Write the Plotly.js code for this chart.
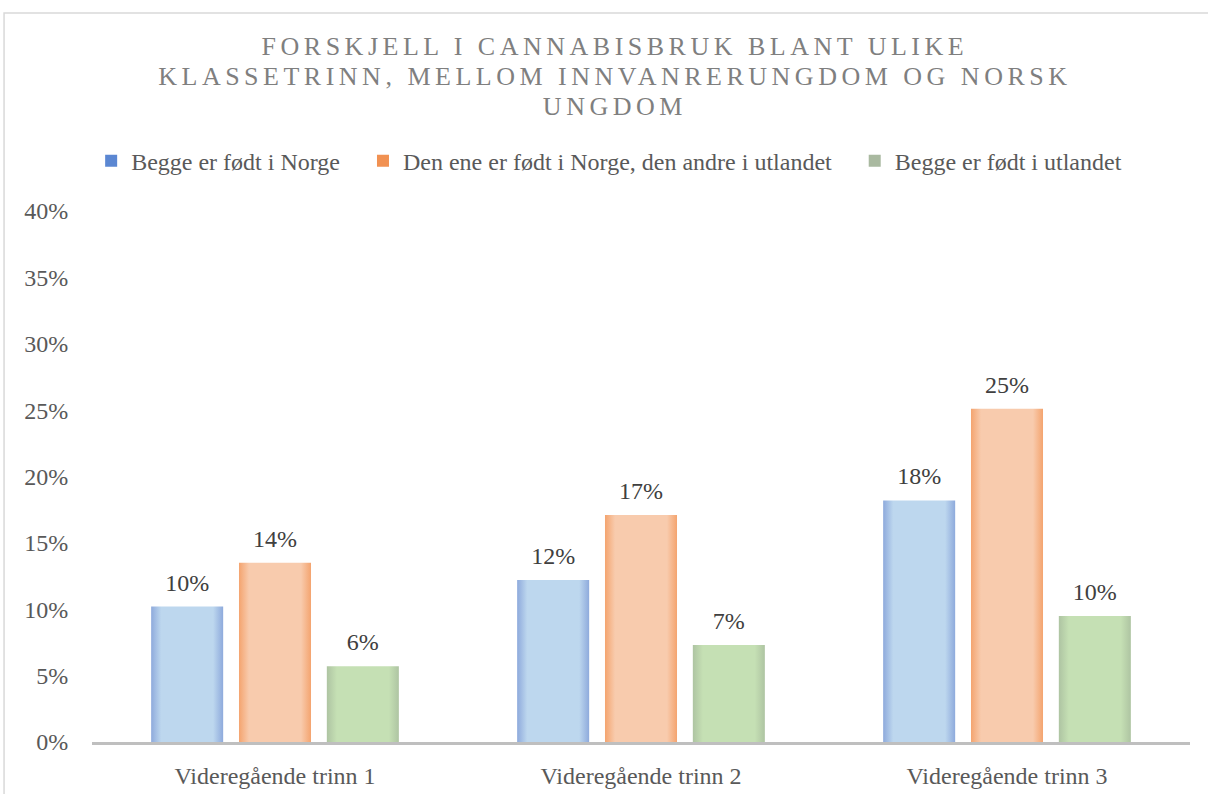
<!DOCTYPE html>
<html>
<head>
<meta charset="utf-8">
<script src="https://cdn.plot.ly/plotly-3.0.1.min.js"></script>
<style>
  html, body { margin: 0; padding: 0; background: #ffffff; }
  #chart { width: 1208px; height: 794px; }
  .gtitle { letter-spacing: 4.5px; }
</style>
</head>
<body>
<div id="chart"></div>
<script>
// ---- Data ----
const categories = ['Videregående trinn 1', 'Videregående trinn 2', 'Videregående trinn 3'];
const seriesNames = [
  'Begge er født i Norge',
  'Den ene er født i Norge, den andre i utlandet',
  'Begge er født i utlandet'
];
const beggeNorge = [0.102, 0.122, 0.182];
const enNorgeEnUtland = [0.135, 0.171, 0.251];
const beggeUtland = [0.057, 0.073, 0.095];
const yTickValues = [0, 0.05, 0.10, 0.15, 0.20, 0.25, 0.30, 0.35, 0.40];
const yTickLabels = ['0%', '5%', '10%', '15%', '20%', '25%', '30%', '35%', '40%'];

// ---- Styles ----
const legendColors = ['#5b87d2', '#f19152', '#a9b9a0'];
const gradEdge = ['#8eaadc', '#f4a46f', '#aec4a2'];
const gradCenter = ['#bdd7ee', '#f8cbad', '#c5e0b4'];
const labelPad = 0.006;
const legendSpacer = '\u00a0\u00a0\u00a0';
const serif = '"Liberation Serif", "Times New Roman", serif';

const seriesValues = [beggeNorge, enNorgeEnUtland, beggeUtland];
const traces = [];
seriesValues.forEach((vals, i) => {
  traces.push({
    type: 'bar',
    name: seriesNames[i] + (i < seriesNames.length - 1 ? legendSpacer : ''),
    x: categories,
    y: vals,
    offsetgroup: 'g' + i,
    marker: { color: legendColors[i], line: { width: 0 } },
    meta: 'grad' + i,
    hoverinfo: 'skip'
  });
});
// data labels, sitting just above each bar
seriesValues.forEach((vals, i) => {
  traces.push({
    type: 'bar',
    x: categories,
    y: vals.map(() => labelPad),
    base: vals,
    offsetgroup: 'g' + i,
    marker: { color: 'rgba(0,0,0,0)', line: { width: 0 } },
    text: vals.map(v => Math.round(v * 100) + '%'),
    textposition: 'outside',
    cliponaxis: false,
    textfont: { family: serif, size: 24, color: '#404040' },
    showlegend: false,
    hoverinfo: 'skip'
  });
});

const layout = {
  width: 1208,
  height: 794,
  paper_bgcolor: '#ffffff',
  plot_bgcolor: '#ffffff',
  margin: { l: 92, r: 18, t: 211, b: 52 },
  font: { family: serif, size: 24, color: '#595959' },
  title: {
    text: 'FORSKJELL I CANNABISBRUK BLANT ULIKE<br>KLASSETRINN, MELLOM INNVANRERUNGDOM OG NORSK<br>UNGDOM',
    font: { family: serif, size: 26, color: '#7f7f7f' },
    x: 0.509,
    xanchor: 'center',
    y: 0.931,
    yanchor: 'middle'
  },
  barmode: 'group',
  bargap: 0.28,
  bargroupgap: 0.18,
  showlegend: true,
  legend: {
    orientation: 'h',
    x: 0.471,
    xanchor: 'center',
    y: 1.094,
    yanchor: 'middle',
    font: { family: serif, size: 24, color: '#595959' },
    traceorder: 'normal'
  },
  xaxis: {
    type: 'category',
    showgrid: false,
    showline: true,
    linecolor: '#bfbfbf',
    linewidth: 3,
    ticks: 'outside',
    ticklen: 10,
    tickcolor: 'rgba(0,0,0,0)',
    tickfont: { family: serif, size: 24, color: '#595959' },
    zeroline: false
  },
  yaxis: {
    range: [0, 0.4],
    tickvals: yTickValues,
    ticktext: yTickLabels,
    showgrid: false,
    showline: false,
    zeroline: false,
    ticks: 'outside',
    ticklen: 18,
    tickcolor: 'rgba(0,0,0,0)',
    tickfont: { family: serif, size: 24, color: '#595959' }
  },
  shapes: [
    {
      type: 'path',
      xref: 'paper', yref: 'paper',
      path: 'M -0.0801 -0.1 L -0.0801 1.3729 L 1.02 1.3729',
      line: { color: '#d9d9d9', width: 1.5 }
    }
  ]
};

Plotly.newPlot('chart', traces, layout, { staticPlot: true, displayModeBar: false }).then(gd => {
  const svg = gd.querySelector('svg.main-svg');
  const ns = 'http://www.w3.org/2000/svg';
  let defs = svg.querySelector('defs');
  if (!defs) { defs = document.createElementNS(ns, 'defs'); svg.insertBefore(defs, svg.firstChild); }
  gradEdge.forEach((edge, i) => {
    const g = document.createElementNS(ns, 'linearGradient');
    g.setAttribute('id', 'grad' + i);
    g.setAttribute('x1', '0'); g.setAttribute('x2', '1');
    g.setAttribute('y1', '0'); g.setAttribute('y2', '0');
    [[0, edge], [0.14, gradCenter[i]], [0.86, gradCenter[i]], [1, edge]].forEach(([o, c]) => {
      const s = document.createElementNS(ns, 'stop');
      s.setAttribute('offset', o);
      s.setAttribute('stop-color', c);
      g.appendChild(s);
    });
    defs.appendChild(g);
  });
  gd.querySelectorAll('.barlayer .trace.bars').forEach(tr => {
    const cd = tr.__data__;
    const meta = cd && cd[0] && cd[0].trace && cd[0].trace.meta;
    if (typeof meta === 'string' && meta.indexOf('grad') === 0) {
      tr.querySelectorAll('path').forEach(p => { p.style.fill = 'url(#' + meta + ')'; });
    }
  });
  // tighter title line spacing, as in the reference (scale existing offsets)
  gd.querySelectorAll('.gtitle tspan.line').forEach(t => {
    const dy = t.getAttribute('dy');
    if (dy) {
      const m = dy.match(/^(-?[\d.]+)(em|px)?$/);
      if (m) t.setAttribute('dy', (parseFloat(m[1]) * 1.15 / 1.3) + (m[2] || ''));
    }
  });
});
</script>
</body>
</html>
